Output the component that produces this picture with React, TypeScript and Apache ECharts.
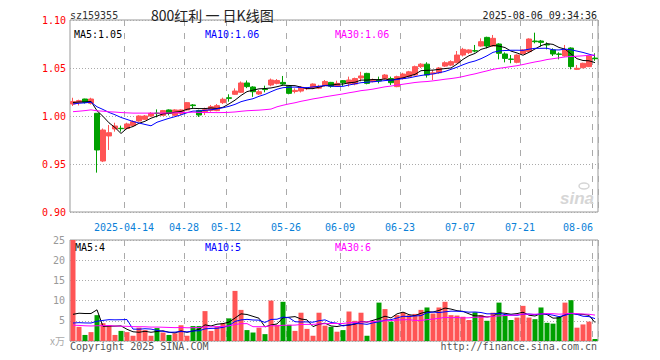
import React, { useEffect, useRef } from "react";
import * as echarts from "echarts";

const dates = [
  "2025-03-31",
  "2025-04-01", "2025-04-02", "2025-04-03", "2025-04-07", "2025-04-08", "2025-04-09", "2025-04-10", "2025-04-11",
  "2025-04-14", "2025-04-15", "2025-04-16", "2025-04-17", "2025-04-18", "2025-04-21", "2025-04-22", "2025-04-23",
  "2025-04-24", "2025-04-25", "2025-04-28", "2025-04-29", "2025-04-30",
  "2025-05-06", "2025-05-07", "2025-05-08", "2025-05-09", "2025-05-12", "2025-05-13", "2025-05-14", "2025-05-15",
  "2025-05-16", "2025-05-19", "2025-05-20", "2025-05-21", "2025-05-22", "2025-05-23", "2025-05-26", "2025-05-27",
  "2025-05-28", "2025-05-29", "2025-05-30",
  "2025-06-03", "2025-06-04", "2025-06-05", "2025-06-06", "2025-06-09", "2025-06-10", "2025-06-11", "2025-06-12",
  "2025-06-13", "2025-06-16", "2025-06-17", "2025-06-18", "2025-06-19", "2025-06-20", "2025-06-23", "2025-06-24",
  "2025-06-25", "2025-06-26", "2025-06-27", "2025-06-30",
  "2025-07-01", "2025-07-02", "2025-07-03", "2025-07-04", "2025-07-07", "2025-07-08", "2025-07-09", "2025-07-10",
  "2025-07-11", "2025-07-14", "2025-07-15", "2025-07-16", "2025-07-17", "2025-07-18", "2025-07-21", "2025-07-22",
  "2025-07-23", "2025-07-24", "2025-07-25", "2025-07-28", "2025-07-29", "2025-07-30", "2025-07-31",
  "2025-08-01", "2025-08-04", "2025-08-05", "2025-08-06",
];

const opens = [
  1.0125, 1.0139, 1.0177, 1.0132, 1.0028, 0.9531, 0.9792, 0.9865, 0.9872, 0.987,
  0.99, 0.9948, 0.9965, 1.0, 1.003, 1.0007, 1.0063, 1.0007, 1.0028, 1.0063,
  1.0115, 1.0056, 1.0045, 1.0059, 1.0056, 1.0139, 1.019, 1.0226, 1.0247, 1.0344,
  1.0302, 1.0229, 1.028, 1.0323, 1.034, 1.035, 1.0306, 1.0255, 1.026, 1.0285,
  1.0295, 1.029, 1.0316, 1.035, 1.031, 1.0368, 1.034, 1.0333, 1.0396, 1.0444,
  1.0358, 1.0375, 1.039, 1.039, 1.0306, 1.039, 1.041, 1.0427, 1.0514, 1.054,
  1.044, 1.045, 1.052, 1.053, 1.0555, 1.0635, 1.066, 1.068, 1.0729, 1.0819,
  1.0729, 1.075, 1.0646, 1.0593, 1.0559, 1.065, 1.067, 1.0781, 1.0781, 1.0746,
  1.0688, 1.0646, 1.0625, 1.0708, 1.0486, 1.0503, 1.0514, 1.0603,
];

const closes = [
  1.015, 1.016, 1.0142, 1.0177, 0.9646, 0.9854, 0.9826, 0.9896, 0.9868, 0.9917,
  0.9941, 1.0, 1.0, 1.0028, 1.0025, 1.0056, 1.0028, 1.0063, 1.0063, 1.0139,
  1.0108, 1.001, 1.0066, 1.0097, 1.0108, 1.0174, 1.0184, 1.026, 1.0344, 1.0306,
  1.0253, 1.0253, 1.0275, 1.0375, 1.037, 1.0333, 1.0236, 1.0267, 1.0299, 1.029,
  1.0333, 1.031, 1.036, 1.031, 1.034, 1.0347, 1.0375, 1.039, 1.0417, 1.034,
  1.038, 1.0365, 1.0427, 1.0347, 1.041, 1.0437, 1.046, 1.0514, 1.054, 1.0427,
  1.045, 1.05, 1.0555, 1.0566, 1.0635, 1.0694, 1.0688, 1.0677, 1.0774, 1.0729,
  1.0809, 1.0653, 1.06, 1.059, 1.0635, 1.0688, 1.0802, 1.0774, 1.0767, 1.074,
  1.0646, 1.0642, 1.0688, 1.0514, 1.0497, 1.0549, 1.0625, 1.0597,
];

const highs = [
  1.019, 1.017, 1.018, 1.019, 1.0028, 0.987, 0.9906, 0.993, 0.99, 0.993,
  0.9955, 1.0007, 1.001, 1.004, 1.0069, 1.0063, 1.0069, 1.007, 1.0069, 1.0146,
  1.0125, 1.0065, 1.0087, 1.0115, 1.0125, 1.0191, 1.0226, 1.0288, 1.036, 1.037,
  1.031, 1.027, 1.0316, 1.039, 1.0385, 1.0417, 1.031, 1.0288, 1.031, 1.03,
  1.034, 1.0325, 1.0375, 1.0355, 1.0368, 1.0375, 1.041, 1.04, 1.046, 1.045,
  1.039, 1.041, 1.0437, 1.041, 1.042, 1.045, 1.047, 1.0525, 1.055, 1.056,
  1.048, 1.051, 1.057, 1.058, 1.0677, 1.071, 1.0694, 1.074, 1.0809, 1.0826,
  1.0844, 1.0757, 1.0663, 1.0635, 1.0642, 1.0694, 1.0809, 1.0868, 1.0792, 1.0767,
  1.0705, 1.0663, 1.074, 1.0715, 1.0531, 1.0555, 1.063, 1.0653,
];

const lows = [
  1.0104, 1.011, 1.013, 1.012, 0.941, 0.952, 0.9646, 0.9837, 0.9837, 0.986,
  0.989, 0.994, 0.996, 0.999, 0.9986, 1.0, 1.0007, 1.0, 1.0007, 1.0056,
  1.008, 0.999, 1.001, 1.0045, 1.005, 1.0125, 1.0149, 1.022, 1.024, 1.029,
  1.02, 1.022, 1.0247, 1.031, 1.033, 1.032, 1.0226, 1.0236, 1.0245, 1.027,
  1.028, 1.028, 1.0306, 1.0295, 1.0306, 1.0313, 1.0306, 1.032, 1.036, 1.033,
  1.035, 1.034, 1.038, 1.0323, 1.03, 1.038, 1.04, 1.042, 1.05, 1.04,
  1.0375, 1.044, 1.051, 1.052, 1.055, 1.062, 1.0646, 1.0663, 1.0722, 1.0705,
  1.0722, 1.059, 1.0559, 1.0549, 1.0549, 1.0646, 1.0663, 1.0757, 1.0722, 1.0694,
  1.0625, 1.059, 1.0618, 1.0486, 1.0479, 1.0497, 1.051, 1.0575,
];

// volume, 万手
const volumes = [
  25, 3.5, 1.5, 2.2, 6.4, 4.4, 3.9, 1.5, 2.5, 2.2,
  1.3, 3.3, 2.7, 1.3, 3.2, 2.1, 1.5, 1.9, 3.9, 1.3,
  3.7, 3.7, 7.4, 2.5, 3.5, 4.4, 5.6, 12.4, 7.7, 2.7,
  2.1, 3.3, 1.7, 10, 4.0, 9.7, 4.0, 2.5, 7.0, 3.0,
  1.3, 7.0, 3.8, 3.5, 2.3, 2.7, 7.3, 5.0, 7.0, 1.3,
  5.0, 9.5, 7.9, 4.8, 6.4, 7.1, 6.4, 6.7, 7.7, 8.3,
  6.8, 8.3, 9.7, 6.4, 6.3, 6.0, 5.2, 7.1, 6.4, 5.0,
  7.0, 9.5, 6.4, 5.2, 5.8, 8.7, 5.8, 5.4, 8.3, 4.5,
  4.3, 6.0, 9.5, 10.1, 3.3, 4.1, 4.8, 0.5,
];

// closes / volumes before the first visible day (estimated from where the MA lines start)
const priorCloses = [
  1.0, 0.996, 0.995, 0.994, 0.998, 1.001, 0.999, 1.002, 1.0, 1.003,
  1.001, 0.999, 1.002, 1.004, 1.003, 1.001, 1.0, 1.002, 1.003, 1.007,
  1.008, 1.01, 1.011, 1.012, 1.014, 1.013, 1.014, 1.015, 1.013,
];
const priorVolumes = [
  5.2, 4.1, 3.6, 4.8, 3.9, 3.3, 4.5, 3.7, 3.2, 4.0,
  3.6, 3.1, 3.8, 2.9, 3.4, 3.0, 3.5, 2.8, 3.3, 3.1,
  2.6, 2.2, 2.4, 2.0, 2.3, 2.1, 1.9, 2.2, 1.8,
];

const labelIndices = [9, 19, 26, 36, 45, 55, 65, 75, 87];
const priceTicks = { min: 0.9, max: 1.1, step: 0.05 };
const volumeTicks = { min: 0, max: 25, step: 5 };

const titleCode = "sz159355";
const titleText = "800红利 一 日K线图";
const timeText = "2025-08-06 09:34:36";
const priceLegend = ["MA5:1.05", "MA10:1.06", "MA30:1.06"];
const volumeLegend = ["MA5:4", "MA10:5", "MA30:6"];

const RED = "#ff5555";
const GREEN = "#00a000";
const MA_COLORS = ["#000000", "#0000ff", "#ff00ff"];
const MONO = "'DejaVu Sans Mono', monospace";

function movingAverage(prior: number[], values: number[], n: number) {
  const all = prior.concat(values);
  return values.map((_, i) => {
    const end = prior.length + i;
    let s = 0;
    let c = 0;
    for (let k = end; k > end - n && k >= 0; k--) {
      s += all[k];
      c++;
    }
    return +(s / c).toFixed(4);
  });
}

export default function App() {
  const ref = useRef<HTMLDivElement>(null);

  useEffect(() => {
    if (!ref.current) return;
    const chart = echarts.init(ref.current, null, { renderer: "svg" });
    const labelSet = new Set(labelIndices);
    const lastLabel = labelIndices[labelIndices.length - 1];
    const firstLabel = labelIndices[0];

    const splitX = {
      show: true,
      interval: (i: number) => labelSet.has(i),
      lineStyle: { color: "#aaaaaa", width: 1, type: [6, 7] },
    };
    const dotted = { show: true, lineStyle: { color: "#aaaaaa", width: 1, type: [1, 2] } };

    const priceMA = [5, 10, 30].map((n) => movingAverage(priorCloses, closes, n));
    const volMA = [5, 10, 30].map((n) => movingAverage(priorVolumes, volumes, n));

    const text = (t: string, x: number, y: number, fill: string, align = "left", font = `10px ${MONO}`) => ({
      type: "text",
      x,
      y,
      silent: true,
      z: 100,
      style: {
        text: t,
        fill,
        font,
        align,
        textAlign: align,
        verticalAlign: "middle",
        textVerticalAlign: "middle",
      },
    });

    const option: any = {
      animation: false,
      backgroundColor: "#ffffff",
      grid: [
        { left: 70, top: 20, width: 528, height: 192, show: true, borderColor: "#999999", borderWidth: 1, backgroundColor: "transparent" },
        { left: 70, top: 240, width: 528, height: 101, show: true, borderColor: "#999999", borderWidth: 1, backgroundColor: "transparent" },
      ],
      xAxis: [
        {
          type: "category",
          gridIndex: 0,
          data: dates,
          boundaryGap: true,
          axisLine: { show: false },
          axisTick: { show: false },
          axisLabel: {
            interval: (i: number) => labelSet.has(i),
            margin: 10,
            formatter: (v: string, i: number) => {
              const t = i === firstLabel ? v : v.slice(5);
              return i === lastLabel ? `{b|${t}}` : `{a|${t}}`;
            },
            rich: {
              a: { color: "#0a7fd8", fontFamily: MONO, fontSize: 10, padding: [0, 6, 0, 0] },
              b: { color: "#0a7fd8", fontFamily: MONO, fontSize: 10, padding: [0, 34, 0, 0] },
            },
          },
          splitLine: splitX,
        },
        {
          type: "category",
          gridIndex: 1,
          data: dates,
          boundaryGap: true,
          axisLine: { show: false },
          axisTick: { show: false },
          axisLabel: { show: false },
          splitLine: splitX,
        },
      ],
      yAxis: [
        {
          type: "value",
          gridIndex: 0,
          min: priceTicks.min,
          max: priceTicks.max,
          interval: priceTicks.step,
          axisLine: { show: false },
          axisTick: { show: false },
          axisLabel: {
            color: "#ff0000",
            fontFamily: MONO,
            fontSize: 10,
            margin: 4,
            formatter: (v: number) => v.toFixed(2),
          },
          splitLine: dotted,
        },
        {
          type: "value",
          gridIndex: 1,
          min: volumeTicks.min,
          max: volumeTicks.max,
          interval: volumeTicks.step,
          axisLine: { show: false },
          axisTick: { show: false },
          axisLabel: {
            color: "#999999",
            fontFamily: MONO,
            fontSize: 10,
            margin: 5,
            formatter: (v: number) => (v === 0 ? "" : String(v)),
          },
          splitLine: dotted,
        },
      ],
      series: [
        {
          type: "candlestick",
          xAxisIndex: 0,
          yAxisIndex: 0,
          barWidth: 5,
          data: opens.map((o, i) => [o, closes[i], lows[i], highs[i]]),
          itemStyle: { color: RED, color0: GREEN, borderColor: RED, borderColor0: GREEN, borderWidth: 1 },
        },
        ...priceMA.map((d, k) => ({
          type: "line",
          xAxisIndex: 0,
          yAxisIndex: 0,
          data: d,
          symbol: "none",
          z: 5,
          lineStyle: { color: MA_COLORS[k], width: 1 },
        })),
        {
          type: "bar",
          xAxisIndex: 1,
          yAxisIndex: 1,
          barWidth: 5,
          data: volumes.map((v, i) => ({
            value: v,
            itemStyle: { color: closes[i] >= opens[i] ? RED : GREEN },
          })),
        },
        ...volMA.map((d, k) => ({
          type: "line",
          xAxisIndex: 1,
          yAxisIndex: 1,
          data: d,
          symbol: "none",
          z: 5,
          lineStyle: { color: MA_COLORS[k], width: 1 },
        })),
      ],
      graphic: [
        text(titleCode, 70, 15, "#333333"),
        text(titleText, 151, 15, "#222222", "left", "14px 'Noto Sans CJK SC', sans-serif"),
        text(timeText, 597, 15, "#222222", "right"),
        text(priceLegend[0], 74, 34, MA_COLORS[0]),
        text(priceLegend[1], 205, 34, MA_COLORS[1]),
        text(priceLegend[2], 335, 34, MA_COLORS[2]),
        text(volumeLegend[0], 75, 247, MA_COLORS[0]),
        text(volumeLegend[1], 205, 247, MA_COLORS[1]),
        text(volumeLegend[2], 335, 247, MA_COLORS[2]),
        text("x万", 65, 340, "#aaaaaa", "right", "10px 'Noto Sans CJK SC', sans-serif"),
        text("Copyright 2025 SINA.COM", 70, 346, "#555555"),
        text("http://finance.sina.com.cn", 597, 346, "#555555", "right"),
        {
          type: "text",
          x: 594,
          y: 198,
          silent: true,
          z: 1,
          style: {
            text: "sina",
            fill: "#d6d6d6",
            font: "italic bold 17px 'Liberation Sans', sans-serif",
            align: "right",
            textAlign: "right",
            verticalAlign: "middle",
            textVerticalAlign: "middle",
          },
        },
        {
          type: "ellipse",
          silent: true,
          z: 1,
          shape: { cx: 584, cy: 186, rx: 5, ry: 3 },
          style: { fill: "none", stroke: "#d6d6d6", lineWidth: 1.5 },
        },
      ],
    };

    chart.setOption(option);
    return () => chart.dispose();
  }, []);

  return (
    <div
      ref={ref}
      style={{ position: "fixed", left: 0, top: 0, width: 660, height: 360, background: "#fff" }}
    />
  );
}
